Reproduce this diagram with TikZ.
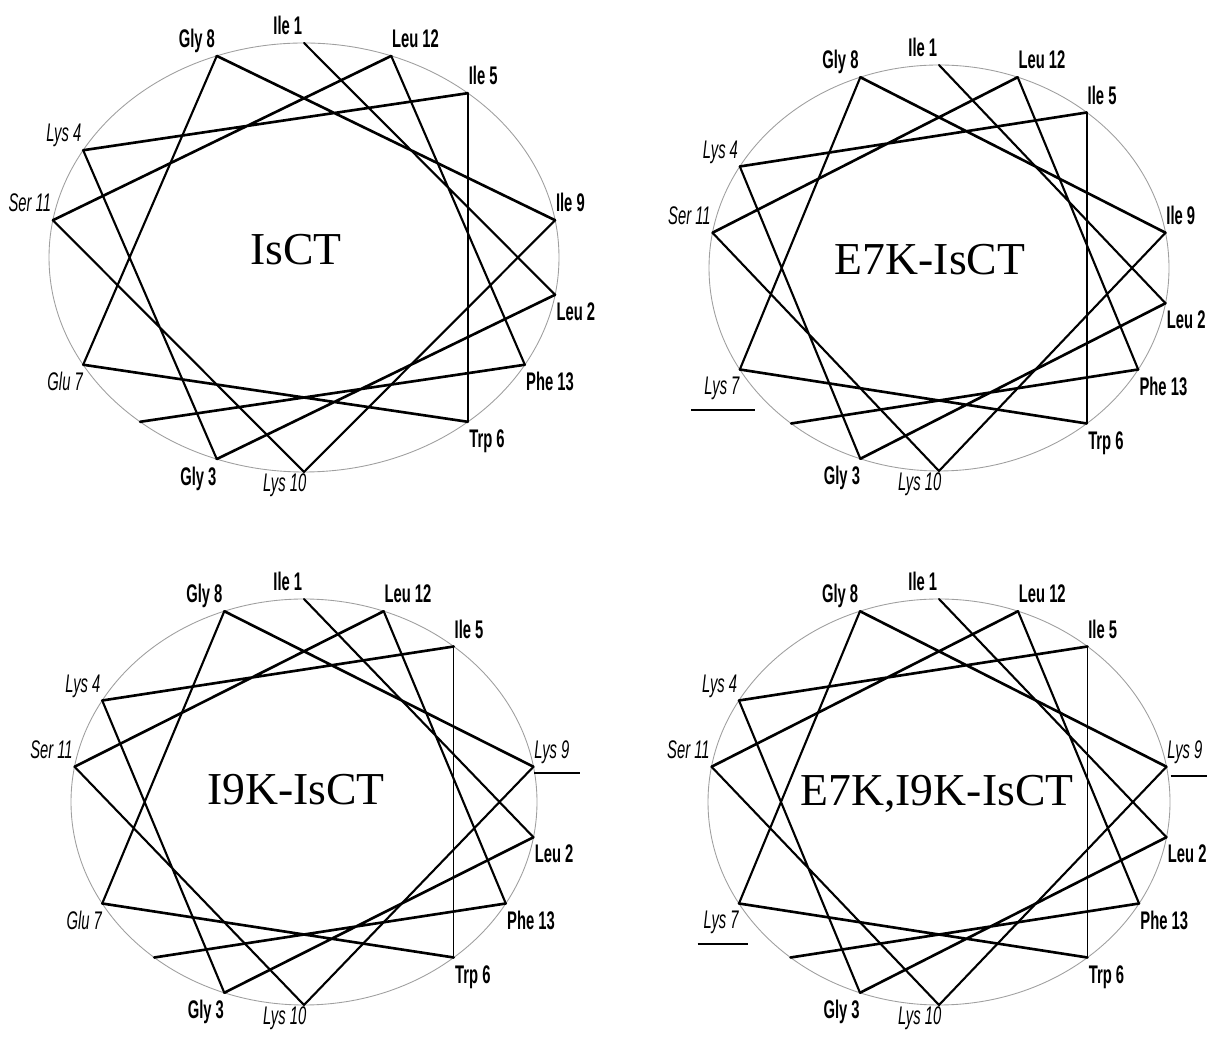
\documentclass[tikz,border=0pt]{standalone}
\usepackage{fontspec}
\setmainfont{Liberation Serif}
\newfontfamily\resfont[FakeStretch=0.58]{Liberation Sans}

\begin{document}
\begin{tikzpicture}[x=0.02cm, y=0.02cm,
  rim/.style={gray!75, line width=0.5pt},
  strand/.style={black, line width=1.5pt, line cap=round},
  steep/.style={black, line width=1.2pt, line cap=round},
  vert/.style={black, line width=0.8pt},
  mutline/.style={black, line width=1.3pt},
  phob/.style={inner sep=0pt, font=\resfont\fontsize{14.5}{16}\selectfont\bfseries},
  phil/.style={inner sep=0pt, font=\resfont\fontsize{14.5}{16}\selectfont\itshape},
  upleft/.style={anchor=base east, xshift=-0.85pt, yshift=4.8pt},
  upright/.style={anchor=base west, xshift=0.3pt, yshift=4.8pt},
  downleft/.style={anchor=north east, yshift=-4.2pt},
  downright/.style={anchor=north west, xshift=0.6pt, yshift=-4.2pt},
  wheelname/.style={inner sep=0pt, anchor=base, font=\fontsize{26}{30}\selectfont}]
\useasboundingbox (0,0) rectangle (1207,1041);

\begin{scope}[shift={(304,783.5)}]
\draw[rim] (0,0) ellipse (255 and 214.5);
\foreach \n in {1,...,14}
  \coordinate (a\n) at ({90-(\n-1)*100}:255 and 214.5);
\draw[strand] (a2) -- (a3) (a4) -- (a5) (a6) -- (a7) (a8) -- (a9) (a11) -- (a12) (a13) -- (a14);
\draw[steep] (a1) -- (a2) (a3) -- (a4) (a7) -- (a8) (a9) -- (a10) -- (a11) (a12) -- (a13);
\draw[vert] (a5) -- (a6);
\node[phob, upleft] (la1) at (a1) {Ile 1};
\node[phob, downright] (la2) at (a2) {Leu 2};
\node[phob, downleft] (la3) at (a3) {Gly 3};
\node[phil, upleft] (la4) at (a4) {Lys 4};
\node[phob, upright] (la5) at (a5) {Ile 5};
\node[phob, downright] (la6) at (a6) {Trp 6};
\node[phil, downleft] (la7) at (a7) {Glu 7};
\node[phob, upleft] (la8) at (a8) {Gly 8};
\node[phob, upright] (la9) at (a9) {Ile 9};
\node[phil, downleft, xshift=1.5pt, yshift=3.3pt] (la10) at (a10) {Lys 10};
\node[phil, upleft] (la11) at (a11) {Ser 11};
\node[phob, upright] (la12) at (a12) {Leu 12};
\node[phob, downright] (la13) at (a13) {Phe 13};
\node[wheelname] (aname) at (-8,-7.5) {IsCT};
\end{scope}

\begin{scope}[shift={(939,773)}]
\draw[rim] (0,0) ellipse (230 and 203);
\foreach \n in {1,...,14}
  \coordinate (b\n) at ({90-(\n-1)*100}:230 and 203);
\draw[strand] (b2) -- (b3) (b4) -- (b5) (b6) -- (b7) (b8) -- (b9) (b11) -- (b12) (b13) -- (b14);
\draw[steep] (b1) -- (b2) (b3) -- (b4) (b7) -- (b8) (b9) -- (b10) -- (b11) (b12) -- (b13);
\draw[vert] (b5) -- (b6);
\node[phob, upleft] (lb1) at (b1) {Ile 1};
\node[phob, downright] (lb2) at (b2) {Leu 2};
\node[phob, downleft] (lb3) at (b3) {Gly 3};
\node[phil, upleft] (lb4) at (b4) {Lys 4};
\node[phob, upright] (lb5) at (b5) {Ile 5};
\node[phob, downright] (lb6) at (b6) {Trp 6};
\node[phil, downleft] (lb7) at (b7) {Lys 7};
\node[phob, upleft] (lb8) at (b8) {Gly 8};
\node[phob, upright] (lb9) at (b9) {Ile 9};
\node[phil, downleft, xshift=1.5pt, yshift=3.3pt] (lb10) at (b10) {Lys 10};
\node[phil, upleft] (lb11) at (b11) {Ser 11};
\node[phob, upright] (lb12) at (b12) {Leu 12};
\node[phob, downright] (lb13) at (b13) {Phe 13};
\coordinate (ub7w) at ([shift={(-13,-15)}]lb7.base west);
\coordinate (ub7e) at ([shift={(15,-15)}]lb7.base east);
\draw[mutline] (ub7w) -- (ub7e);
\node[wheelname] (bname) at (-9,-7) {E7K-IsCT};
\end{scope}

\begin{scope}[shift={(304,239)}]
\draw[rim] (0,0) ellipse (233 and 203);
\foreach \n in {1,...,14}
  \coordinate (c\n) at ({90-(\n-1)*100}:233 and 203);
\draw[strand] (c2) -- (c3) (c4) -- (c5) (c6) -- (c7) (c8) -- (c9) (c11) -- (c12) (c13) -- (c14);
\draw[steep] (c1) -- (c2) (c3) -- (c4) (c7) -- (c8) (c9) -- (c10) -- (c11) (c12) -- (c13);
\draw[vert] (c5) -- (c6);
\node[phob, upleft] (lc1) at (c1) {Ile 1};
\node[phob, downright] (lc2) at (c2) {Leu 2};
\node[phob, downleft] (lc3) at (c3) {Gly 3};
\node[phil, upleft] (lc4) at (c4) {Lys 4};
\node[phob, upright] (lc5) at (c5) {Ile 5};
\node[phob, downright] (lc6) at (c6) {Trp 6};
\node[phil, downleft] (lc7) at (c7) {Glu 7};
\node[phob, upleft] (lc8) at (c8) {Gly 8};
\node[phil, upright] (lc9) at (c9) {Lys 9};
\node[phil, downleft, xshift=1.5pt, yshift=3.3pt] (lc10) at (c10) {Lys 10};
\node[phil, upleft] (lc11) at (c11) {Ser 11};
\node[phob, upright] (lc12) at (c12) {Leu 12};
\node[phob, downright] (lc13) at (c13) {Phe 13};
\coordinate (uc9w) at ([shift={(0,-15)}]lc9.base west);
\coordinate (uc9e) at ([shift={(10,-15)}]lc9.base east);
\draw[mutline] (uc9w) -- (uc9e);
\node[wheelname] (cname) at (-8,-3) {I9K-IsCT};
\end{scope}

\begin{scope}[shift={(939,239)}]
\draw[rim] (0,0) ellipse (231 and 203);
\foreach \n in {1,...,14}
  \coordinate (d\n) at ({90-(\n-1)*100}:231 and 203);
\draw[strand] (d2) -- (d3) (d4) -- (d5) (d6) -- (d7) (d8) -- (d9) (d11) -- (d12) (d13) -- (d14);
\draw[steep] (d1) -- (d2) (d3) -- (d4) (d7) -- (d8) (d9) -- (d10) -- (d11) (d12) -- (d13);
\draw[vert] (d5) -- (d6);
\node[phob, upleft] (ld1) at (d1) {Ile 1};
\node[phob, downright] (ld2) at (d2) {Leu 2};
\node[phob, downleft] (ld3) at (d3) {Gly 3};
\node[phil, upleft] (ld4) at (d4) {Lys 4};
\node[phob, upright] (ld5) at (d5) {Ile 5};
\node[phob, downright] (ld6) at (d6) {Trp 6};
\node[phil, downleft] (ld7) at (d7) {Lys 7};
\node[phob, upleft] (ld8) at (d8) {Gly 8};
\node[phil, upright] (ld9) at (d9) {Lys 9};
\node[phil, downleft, xshift=1.5pt, yshift=3.3pt] (ld10) at (d10) {Lys 10};
\node[phil, upleft] (ld11) at (d11) {Ser 11};
\node[phob, upright] (ld12) at (d12) {Leu 12};
\node[phob, downright] (ld13) at (d13) {Phe 13};
\coordinate (ud7w) at ([shift={(-5.5,-15)}]ld7.base west);
\coordinate (ud7e) at ([shift={(8.6,-15)}]ld7.base east);
\draw[mutline] (ud7w) -- (ud7e);
\coordinate (ud9w) at ([shift={(3.5,-18)}]ld9.base west);
\coordinate (ud9e) at ([shift={(50,-18)}]ld9.base west);
\draw[mutline] (ud9w) -- (ud9e);
\node[wheelname] (dname) at (-2,-4) {E7K,I9K-IsCT};
\end{scope}
\end{tikzpicture}
\end{document}
